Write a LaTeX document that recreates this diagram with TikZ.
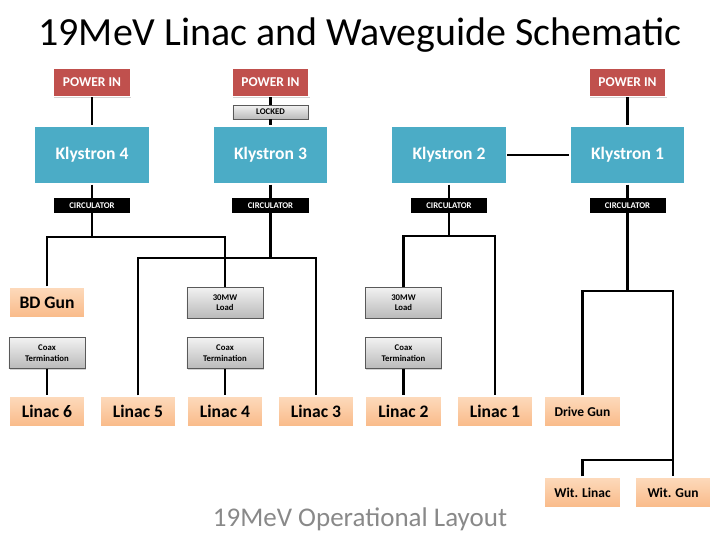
\documentclass[tikz,border=0pt]{standalone}
\usepackage{fontspec}
\setmainfont{Carlito}
\usetikzlibrary{shadows}

\begin{document}
\begin{tikzpicture}[x=0.025cm, y=-0.025cm]
        %%颜色
        \definecolor{power_color}{RGB}{192,80,77}
        \definecolor{klystron_color}{RGB}{75,172,198}
        \definecolor{orange_top}{RGB}{253,218,188}
        \definecolor{orange_bottom}{RGB}{249,186,136}
        \definecolor{gray_top}{RGB}{242,242,242}
        \definecolor{gray_bottom}{RGB}{186,186,186}
        \definecolor{sub_color}{RGB}{137,137,137}
        %%字号
        \newcommand{\bigfont}{\bfseries\fontsize{12.5}{14}\selectfont}
        \newcommand{\midfont}{\bfseries\fontsize{9.6}{11}\selectfont}
        \newcommand{\tinyfont}{\bfseries\fontsize{6.2}{7.4}\selectfont}
        %%样式
        \tikzset{box/.style = {draw=white, line width=1pt, inner sep=0pt, align=center,
                drop shadow={shadow xshift=.6pt, shadow yshift=-.9pt, opacity=.35}}}
        \tikzset{powerbox/.style = {box, fill=power_color, text=white, font=\midfont,
                minimum width=1.925cm, minimum height=.7cm}}
        \tikzset{klystronbox/.style = {box, fill=klystron_color, text=white, font=\bigfont,
                minimum width=2.875cm, minimum height=1.45cm}}
        \tikzset{circbox/.style = {inner sep=0pt, fill=black, text=white, font=\tinyfont,
                minimum width=1.9cm, minimum height=.375cm}}
        \tikzset{lockbox/.style = {box, line width=.6pt, draw=gray!70!black, top color=gray_top, bottom color=gray_bottom,
                font=\tinyfont, minimum width=1.875cm, minimum height=.35cm}}
        \tikzset{graybox/.style = {box, line width=.6pt, draw=gray!70!black, top color=gray_top, bottom color=gray_bottom,
                font=\tinyfont, minimum width=1.9cm, minimum height=.775cm}}
        \tikzset{linacbox/.style = {box, top color=orange_top, bottom color=orange_bottom,
                font=\bigfont, minimum width=1.9cm, minimum height=.775cm}}
        \tikzset{wire/.style = {line width=1.6pt}}

        \useasboundingbox (0,0) rectangle (720,540);

        %%标题
        \node (title) at (360,35) {\fontsize{28.4}{33}\selectfont 19MeV Linac and Waveguide Schematic};
        \node[text=sub_color] (subtitle) at (360,519) {\fontsize{19.2}{22}\selectfont 19MeV Operational Layout};

        %%POWER IN
        \node[powerbox] (pw4) at (92,82.5) {POWER IN};
        \node[powerbox] (pw3) at (270.5,82.5) {POWER IN};
        \node[powerbox] (pw1) at (627.5,82.5) {POWER IN};
        \node[lockbox] (locked) at (270.5,112) {LOCKED};

        %%Klystron
        \node[klystronbox] (k4) at (92,155) {Klystron 4};
        \node[klystronbox] (k3) at (270.5,155) {Klystron 3};
        \node[klystronbox] (k2) at (449,155) {Klystron 2};
        \node[klystronbox] (k1) at (627.5,155) {Klystron 1};

        %%CIRCULATOR
        \node[circbox] (circ4) at (92,205.5) {CIRCULATOR};
        \node[circbox] (circ3) at (270.5,205.5) {CIRCULATOR};
        \node[circbox] (circ2) at (449,205.5) {CIRCULATOR};
        \node[circbox] (circ1) at (627.5,205.5) {CIRCULATOR};

        %%负载与终端
        \node[linacbox] (bdgun) at (47,302.5) {BD Gun};
        \node[graybox] (load4) at (225,302.5) {30MW\\Load};
        \node[graybox] (load2) at (403.5,302.5) {30MW\\Load};
        \node[graybox] (coax6) at (47,353) {Coax\\Termination};
        \node[graybox] (coax4) at (225,353) {Coax\\Termination};
        \node[graybox] (coax2) at (403.5,353) {Coax\\Termination};

        %%Linac
        \node[linacbox] (linac6) at (47,411.5) {Linac 6};
        \node[linacbox] (linac5) at (138,411.5) {Linac 5};
        \node[linacbox] (linac4) at (225,411.5) {Linac 4};
        \node[linacbox] (linac3) at (316,411.5) {Linac 3};
        \node[linacbox] (linac2) at (403.5,411.5) {Linac 2};
        \node[linacbox] (linac1) at (495,411.5) {Linac 1};
        \node[linacbox, font=\midfont] (drivegun) at (582.5,411.5) {Drive Gun};
        \node[linacbox, font=\midfont] (witlinac) at (582.5,492.5) {Wit. Linac};
        \node[linacbox, font=\midfont] (witgun) at (673,492.5) {Wit. Gun};

        %%分支点
        \coordinate (b4) at (92,237);
        \coordinate (b3) at (270.5,258);
        \coordinate (b2) at (449,236);
        \coordinate (b1) at (627.5,291);
        \coordinate (w1) at (673,460);

        %%波导连线
        \draw[wire] (pw4)--(k4)--(circ4)--(b4);
        \draw[wire] (pw3)--(locked)--(k3)--(circ3)--(b3);
        \draw[wire] (k2)--(circ2)--(b2);
        \draw[wire] (pw1)--(k1)--(circ1)--(b1);
        \draw[wire] (k2)--(k1);
        \draw[wire] (bdgun) |- (b4) -| (load4);
        \draw[wire] (linac5) |- (b3) -| (linac3);
        \draw[wire] (load2) |- (b2) -| (linac1);
        \draw[wire] (drivegun) |- (b1) -| (witgun);
        \draw[wire] (witlinac) |- (w1);
        \draw[wire] (coax6)--(linac6);
        \draw[wire] (coax4)--(linac4);
        \draw[wire] (coax2)--(linac2);
\end{tikzpicture}
\end{document}
